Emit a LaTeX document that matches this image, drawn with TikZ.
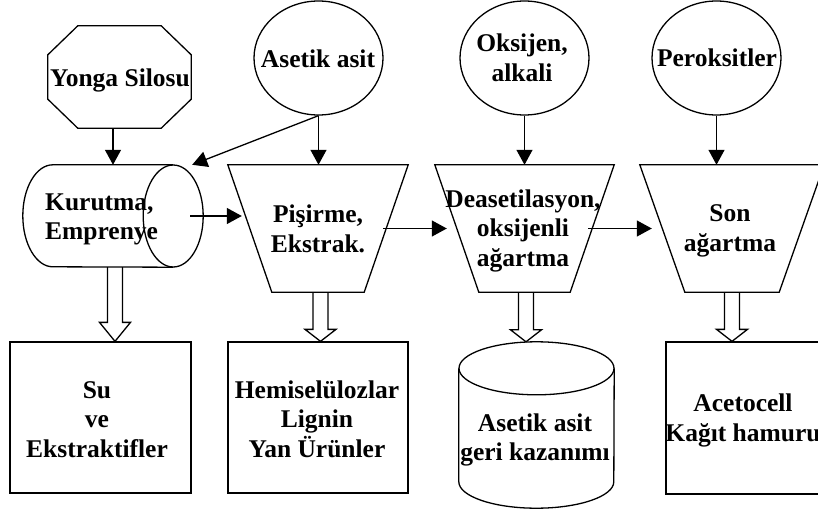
\documentclass[tikz,border=0pt]{standalone}
\usepackage{fontspec}
\setmainfont{Liberation Serif}
\usetikzlibrary{arrows.meta,calc,shapes.geometric}
\newcommand\mlines[2][c]{\begin{tabular}[t]{@{}#1@{}}#2\end{tabular}}
\newcommand\hollowarr[3]{%
  \draw[shp] let \p1=(#1), \p2=(#2) in
    (\x1-7.5pt,\y1) -- (\x1-7.5pt,\y2+#3) -- (\x1-15.5pt,\y2+#3) -- (\x1,\y2)
    -- (\x1+15.5pt,\y2+#3) -- (\x1+7.5pt,\y2+#3) -- (\x1+7.5pt,\y1);}
\tikzset{
  lbl/.style={font=\bfseries\fontsize{25.5}{29.5}\selectfont, inner sep=0pt, anchor=base},
  shp/.style={draw, line width=1.3pt},
  frame/.style={draw=none, inner sep=0pt, minimum width=#1},
  ell/.style={ellipse, draw, line width=1.3pt, inner sep=0pt, minimum width=129pt, minimum height=114pt},
  arr/.style={line width=1.3pt, -{Triangle[length=15pt,width=16pt]}}
}
\begin{document}
\begin{tikzpicture}[x=1pt,y=-1pt]
\useasboundingbox (0,0) rectangle (818,508);
\clip (0,0) rectangle (818,508);

% ---------- top sources ----------
\node[frame=143pt, minimum height=102pt] (ys) at (119.5,77) {};
\draw[shp] ([xshift=30pt]ys.north west) -- ([xshift=-30pt]ys.north east)
  -- ([yshift=-29pt]ys.north east) -- ([yshift=29pt]ys.south east)
  -- ([xshift=-30pt]ys.south east) -- ([xshift=30pt]ys.south west)
  -- ([yshift=29pt]ys.south west) -- ([yshift=-29pt]ys.north west) -- cycle;
\node[lbl] (tys) at (120,87) {Yonga Silosu};

\node[ell] (aa) at (318.5,58) {};
\node[lbl] (taa) at (318,68) {Asetik asit};

\node[ell] (ok) at (524.5,58) {};
\node[lbl] (tok) at (522,51.7) {\mlines{Oksijen,\\alkali}};

\node[ell] (per) at (716.5,58) {};
\node[lbl] (tper) at (717,67) {Peroksitler};

% ---------- process row ----------
\node[frame=180pt, minimum height=102pt] (kur) at (113,216) {};
\draw[shp] ([xshift=-30pt]kur.east) ellipse [x radius=30pt, y radius=51pt];
\draw[shp] ([xshift=-30pt]kur.north east) -- ([xshift=30pt]kur.north west)
  arc[start angle=90, end angle=270, x radius=30pt, y radius=51pt]
  -- ([xshift=-30pt]kur.south east);
\node[lbl, anchor=base west] (tkur) at (45,210) {\mlines[l]{Kurutma,\\Emprenye}};

\node[frame=180pt, minimum height=127pt] (pis) at (318,228.5) {};
\draw[shp] (pis.north west) -- (pis.north east) -- ([xshift=-44pt]pis.south east)
  -- ([xshift=44pt]pis.south west) -- cycle;
\node[lbl] (tpis) at (318,222.7) {\mlines{Pişirme,\\Ekstrak.}};

\node[frame=179pt, minimum height=127pt] (dea) at (524.5,228.5) {};
\draw[shp] (dea.north west) -- (dea.north east) -- ([xshift=-44pt]dea.south east)
  -- ([xshift=44pt]dea.south west) -- cycle;
\node[lbl] (tdea) at (523,207.3) {\mlines{Deasetilasyon,\\oksijenli\\ağartma}};

\node[frame=184pt, minimum height=127pt] (son) at (732,228.5) {};
\draw[shp] (son.north west) -- (son.north east) -- ([xshift=-45pt]son.south east)
  -- ([xshift=45pt]son.south west) -- cycle;
\node[lbl] (tson) at (730,221.7) {\mlines{Son\\ağartma}};

% ---------- products ----------
\node[frame=181pt, minimum height=151pt, draw, line width=1.3pt] (su) at (100.5,417.5) {};
\node[lbl] (tsu) at (97,398.3) {\mlines{Su\\ve\\Ekstraktifler}};

\node[frame=180pt, minimum height=151pt, draw, line width=1.3pt] (hem) at (318,417.5) {};
\node[lbl] (them) at (317,398.3) {\mlines{Hemiselülozlar\\Lignin\\Yan Ürünler}};

\node[frame=155pt, minimum height=166pt] (geri) at (536.5,425) {};
\draw[shp] ([yshift=-26.5pt]geri.north) ellipse [x radius=77.5pt, y radius=26.5pt];
\draw[shp] ([yshift=-26.5pt]geri.north west) -- ([yshift=26.5pt]geri.south west)
  arc[start angle=180, end angle=360, x radius=77.5pt, y radius=26.5pt]
  -- ([yshift=-26.5pt]geri.north east);
\node[lbl] (tgeri) at (535,431) {\mlines{Asetik asit\\geri kazanımı}};

\node[frame=181pt, minimum height=152pt, draw, line width=1.3pt] (ac) at (756.5,418) {};
\node[lbl] (tac) at (743,411.7) {\mlines{Acetocell\\Kağıt hamuru}};

% ---------- connectors ----------
\draw[arr] (ys.south -| kur.north) -- (kur.north);
\draw[arr] (aa.south) -- (aa.south |- pis.north);
\draw[arr] (aa.south) -- ([xshift=-11pt]kur.north east);
\draw[arr] (ok.south) -- (ok.south |- dea.north);
\draw[arr] (per.south) -- (per.south |- son.north);
\draw[arr] ([xshift=-13pt]kur.east) -- ([xshift=14pt]kur.east -| pis.west);
\draw[arr] ([xshift=-25pt]pis.east) -- ([xshift=12pt]pis.east -| dea.west);
\draw[arr] ([xshift=-26pt]dea.east) -- ([xshift=12pt]dea.east -| son.west);

\hollowarr{[xshift=2pt]kur.south}{su.north}{19pt}
\hollowarr{[xshift=2.5pt]pis.south}{hem.north}{12pt}
\hollowarr{[xshift=1.5pt]dea.south}{geri.north}{12pt}
\hollowarr{son.south}{ac.north}{12pt}
\end{tikzpicture}
\end{document}
